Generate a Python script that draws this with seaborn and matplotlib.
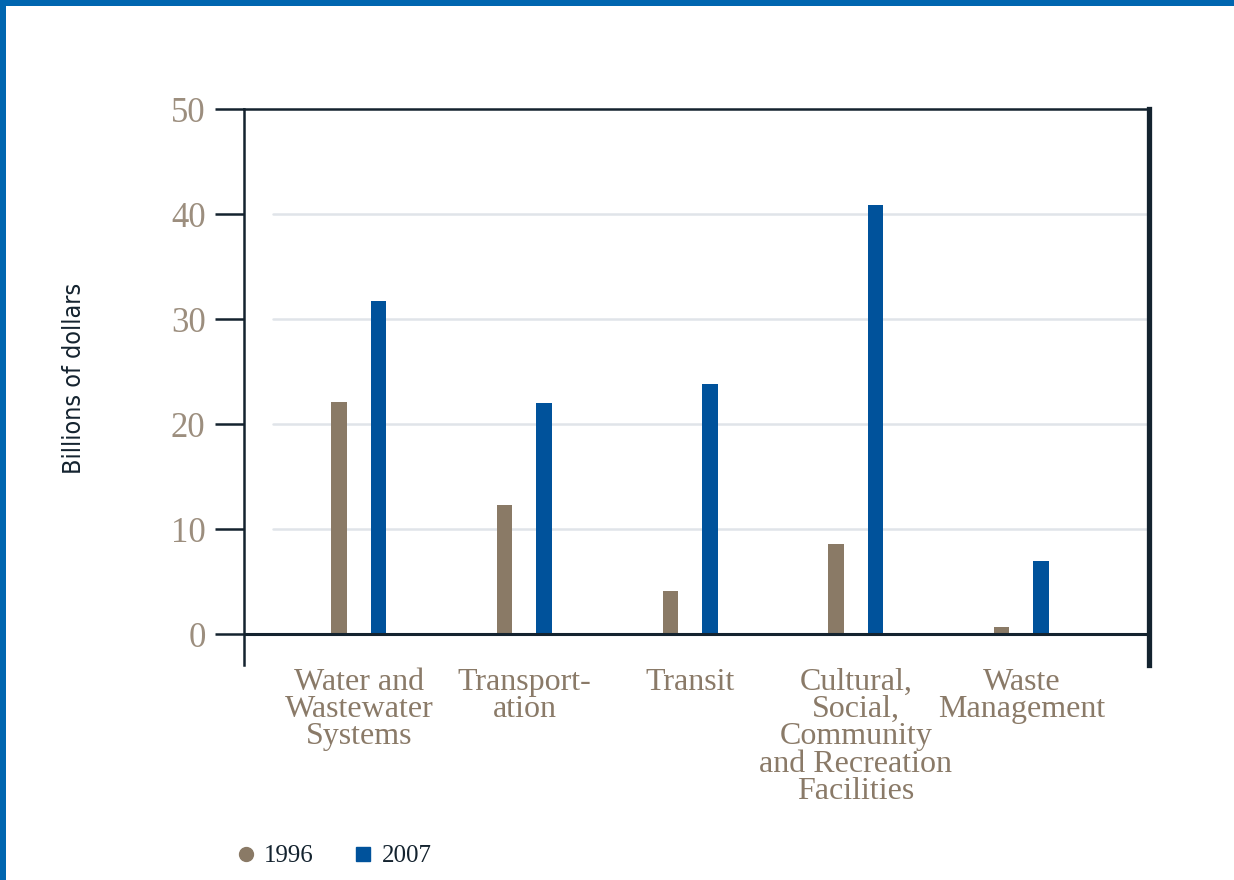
import matplotlib.font_manager as fm
import matplotlib.pyplot as plt
import pandas as pd
import seaborn as sns
from matplotlib.lines import Line2D
from matplotlib.patches import Rectangle

categories = [
    "Water and\nWastewater\nSystems",
    "Transport-\nation",
    "Transit",
    "Cultural,\nSocial,\nCommunity\nand Recreation\nFacilities",
    "Waste\nManagement",
]
years = ["1996", "2007"]
values_1996 = [22.1, 12.3, 4.1, 8.6, 0.7]
values_2007 = [31.7, 22.0, 23.8, 40.9, 7.0]
y_ticks = [0, 10, 20, 30, 40, 50]

brown = "#8a7a66"
blue = "#00529b"
navy = "#14232f"
label_brown = "#8a7a68"
tick_grey = "#9c8e7e"
grid_grey = "#e0e4e9"
frame_blue = "#0066b0"

df = pd.DataFrame(
    {
        "category": categories * 2,
        "year": [years[0]] * len(categories) + [years[1]] * len(categories),
        "value": values_1996 + values_2007,
    }
)

sns.set_style("white")
fonts = fm.fontManager.ttflist
names = {f.name for f in fonts}
has_condensed = any(f.name == "DejaVu Sans" and f.stretch == "condensed" for f in fonts)
if "Liberation Sans Narrow" in names:
    ylab_font, ylab_stretch, ylab_size = "Liberation Sans Narrow", "normal", 19
elif has_condensed:
    ylab_font, ylab_stretch, ylab_size = "DejaVu Sans", "condensed", 18
else:
    ylab_font, ylab_stretch, ylab_size = "DejaVu Sans", "normal", 16
plt.rcParams["font.family"] = ["Liberation Serif", "DejaVu Serif"]

fig = plt.figure(figsize=(12.34, 8.8), dpi=100)
ax = fig.add_axes((0.1981, 0.2443, 0.7330, 0.6318))

sns.barplot(
    data=df,
    x="category",
    y="value",
    hue="year",
    palette=[brown, blue],
    width=0.476,
    gap=0.605,
    saturation=1,
    errorbar=None,
    linewidth=0,
    legend=False,
    ax=ax,
)

ax.set_xlim(-0.69, 4.77)
ax.set_ylim(-2.95, 50)
ax.set_yticks(y_ticks)

# light gridlines that stop short of the left spine
for y in y_ticks[1:-1]:
    ax.axhline(y, xmin=0.0315, color=grid_grey, lw=1.8, zorder=0)
ax.axhline(0, color=navy, lw=2.2, zorder=3)

for side in ["left", "top"]:
    ax.spines[side].set_color(navy)
    ax.spines[side].set_linewidth(1.8)
ax.spines["right"].set_color(navy)
ax.spines["right"].set_linewidth(3.8)
ax.spines["bottom"].set_visible(False)

ax.tick_params(
    axis="y", left=True, direction="out", length=21, width=1.8,
    color=navy, pad=7, labelsize=25, labelcolor=tick_grey,
)
ax.tick_params(axis="x", bottom=False, length=0, pad=2, labelsize=23, labelcolor=label_brown)
for lab in ax.get_xticklabels():
    lab.set_linespacing(0.92)

ax.set_xlabel("")
ax.set_ylabel(
    "Billions of dollars", family=[ylab_font, "DejaVu Sans"],
    fontstretch=ylab_stretch, fontsize=ylab_size, color=navy,
)
ax.yaxis.set_label_coords(-0.175, 0.516)

handles = [
    Line2D([], [], marker="o", ls="", ms=10, color=brown, label=years[0]),
    Line2D([], [], marker="s", ls="", ms=10, color=blue, label=years[1]),
]
fig.legend(
    handles=handles,
    loc="center left",
    bbox_to_anchor=(233 / 1234, 1 - 856 / 880),
    ncol=2,
    frameon=False,
    fontsize=18,
    labelcolor=navy,
    handletextpad=0.25,
    columnspacing=1.45,
    handlelength=1.0,
    borderaxespad=0,
    borderpad=0,
)

# blue frame along the top and left edges
fig.add_artist(Rectangle((0, 1 - 6 / 880), 1, 6 / 880, transform=fig.transFigure, color=frame_blue, lw=0))
fig.add_artist(Rectangle((0, 0), 6 / 1234, 1, transform=fig.transFigure, color=frame_blue, lw=0))

fig.savefig("out.png", dpi=100)
